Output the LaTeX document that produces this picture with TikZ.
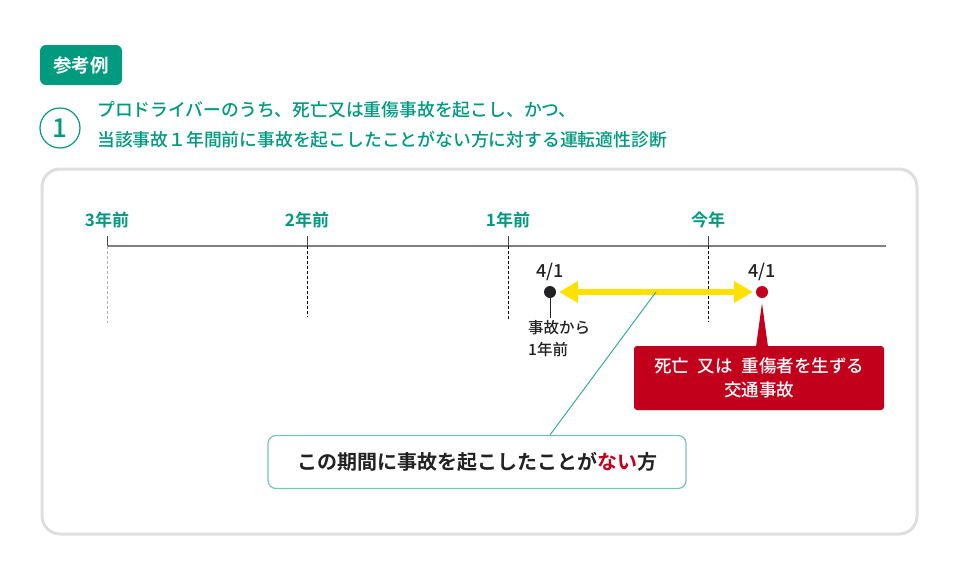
\documentclass[tikz,border=0pt]{standalone}
\usepackage{fontspec}
\setmainfont{Noto Sans CJK JP}[UprightFont=* Medium, BoldFont=* Bold]
\usepackage{xcolor}
\usepackage{tikz}
\usetikzlibrary{arrows.meta, positioning, calc}

\definecolor{kteal}{HTML}{009A7E}
\definecolor{kline}{HTML}{74C5B5}
\definecolor{kred}{HTML}{C3001C}
\definecolor{kyellow}{HTML}{FFE100}
\definecolor{kink}{HTML}{222222}

\begin{document}
\begin{tikzpicture}[
    x=1pt, y=-1pt,
    badge/.style={fill=kteal, text=white, rounded corners=6pt, minimum width=82pt, minimum height=40pt, font=\fontsize{18.5}{18.5}\selectfont\bfseries},
    year/.style={text=kteal, inner sep=0pt, font=\fontsize{17}{17}\selectfont\bfseries},
    date/.style={text=kink, inner sep=0pt, font=\fontsize{18}{18}\selectfont},
    dot/.style={circle, inner sep=0pt, minimum size=12pt},
    tick/.style={draw=black!70, line width=1pt},
    guide/.style={draw=black, line width=0.8pt, dash pattern=on 3pt off 2pt},
    period/.style={arrows={Triangle[length=19pt, width=21pt]-Triangle[length=19pt, width=21pt]}, draw=kyellow, line width=6pt},
    callout/.style={fill=kred, text=white, rounded corners=3pt, align=center, minimum width=250pt, minimum height=64pt, font=\fontsize{17.5}{24}\selectfont},
]
    \useasboundingbox (0,0) rectangle (960,584);

    % header
    \node[badge] (badge) at (81,65) {参考例};
    \node[circle, draw=kteal, line width=1.2pt, minimum size=40pt, inner sep=0pt, text=kteal, font=\fontsize{26}{26}\selectfont] (num) at (60,128) {1};
    \node[anchor=west, align=left, inner sep=0pt, text=kteal, font=\fontsize{17.8}{30}\selectfont] (title) at (97,125)
        {プロドライバーのうち、死亡又は重傷事故を起こし、かつ、\\当該事故１年間前に事故を起こしたことがない方に対する運転適性診断};

    % frame
    \draw[draw=black!13, line width=3pt, rounded corners=18pt] (42,169) rectangle (917,534);

    % time axis
    \coordinate (a0) at (107,246);
    \coordinate (a1) at (886,246);
    \draw[draw=black!50, line width=2pt] (a0) -- (a1);

    \node[year] (y3) at (107,220) {3年前};
    \node[year] (y2) at (307,220) {2年前};
    \node[year] (y1) at (508,220) {1年前};
    \node[year] (y0) at (708,220) {今年};

    \draw[tick] (107,236) -- (107,246);
    \draw[tick] (307,236) -- (307,246);
    \draw[tick] (508,236) -- (508,246);
    \draw[tick] (708,236) -- (708,246);
    \draw[guide, draw=black!30] (107,246) -- (107,323);
    \draw[guide] (307,246) -- (307,317);
    \draw[guide] (508,246) -- (508,320);
    \draw[guide] (708,246) -- (708,322);

    % period
    \node[dot, fill=kink] (d1) at (550,292) {};
    \node[dot, fill=kred] (d2) at (762,292) {};
    \node[date] (d1lbl) at (550,272) {4/1};
    \node[date] (d2lbl) at (762,272) {4/1};
    \draw[period, shorten <=3pt, shorten >=3pt] (d1) -- (d2);
    \coordinate (mid) at ($(d1)!0.5!(d2)$);

    \node[anchor=north west, align=left, inner sep=0pt, text=kink, font=\fontsize{15.5}{22}\selectfont] (ago) at (528,320) {事故から\\1年前};
    \draw[draw=kink, line width=1pt] (d1) -- (550,318);

    \node[callout] (acc) at (759,378) {死亡\hspace{0.5em}又は\hspace{0.5em}重傷者を生ずる\\交通事故};
    \fill[kred] ($(d2.south)+(0,5)$) -- ($(acc.north -| d2)+(-6,1)$) -- ($(acc.north -| d2)+(6,1)$) -- cycle;

    \node[draw=kline, line width=1.2pt, rounded corners=8pt, fill=white, minimum width=418pt, minimum height=53pt, text=kink, font=\fontsize{20}{20}\selectfont\bfseries] (note) at (477,462)
        {この期間に事故を起こしたことが\textcolor{kred}{ない}方};
    \draw[draw=kteal!80, line width=1pt] (mid) -- (note.north -| d1);
\end{tikzpicture}
\end{document}
